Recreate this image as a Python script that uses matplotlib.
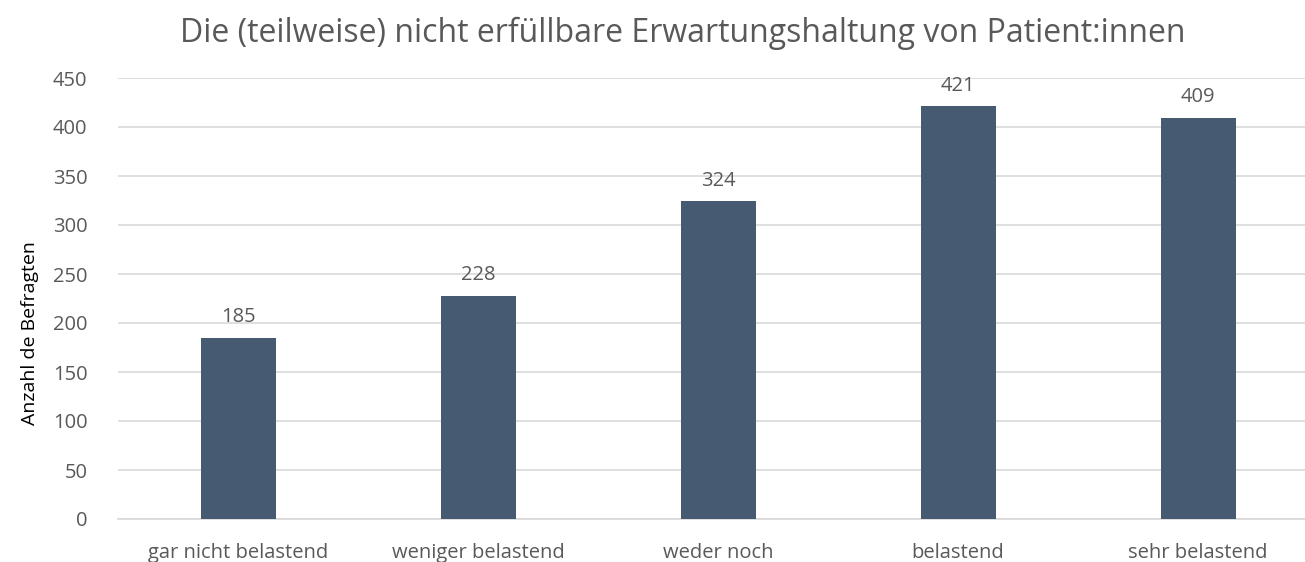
import matplotlib
matplotlib.use("Agg")
import matplotlib.pyplot as plt
import numpy as np

categories = ["gar nicht belastend", "weniger belastend", "weder noch",
              "belastend", "sehr belastend"]
counts = [185, 228, 324, 421, 409]
y_ticks = [0, 50, 100, 150, 200, 250, 300, 350, 400, 450]

plt.rcParams['font.family'] = ['Open Sans', 'DejaVu Sans']
txt = '#595959'

fig = plt.figure(figsize=(13.05, 5.62), dpi=100)
ax = fig.add_axes([118 / 1305, 1 - 519 / 562, (1318 - 118) / 1305, (519 - 78) / 562])

x = np.arange(len(categories))
ax.bar(x, counts, width=0.3125, color='#465A72', zorder=3)
for xi, v in zip(x, counts):
    ax.text(xi, v + 11, str(v), ha='center', va='bottom', fontsize=14.5, color=txt)

ax.set_xlim(-0.5, len(categories) - 0.5)
ax.set_ylim(0, 450)
ax.set_yticks(y_ticks)
ax.set_xticks(x)
ax.set_xticklabels(categories)
ax.tick_params(axis='both', length=0, labelsize=14.5, colors=txt)
ax.tick_params(axis='y', pad=22)
ax.tick_params(axis='x', pad=17)
ax.yaxis.grid(True, color='#D9D9D9', linewidth=1.2, zorder=0)
for s in ['top', 'right', 'left']:
    ax.spines[s].set_visible(False)
ax.spines['bottom'].set_color('#D9D9D9')
ax.spines['bottom'].set_linewidth(1.2)

fig.text(30 / 1305, 1 - 333 / 562, 'Anzahl de Befragten', rotation=90,
         ha='center', va='center', fontsize=14, color='black')
fig.suptitle('Die (teilweise) nicht erfüllbare Erwartungshaltung von Patient:innen',
             x=0.523, y=0.97, fontsize=23, color=txt)

fig.savefig("out.png", dpi=100)
